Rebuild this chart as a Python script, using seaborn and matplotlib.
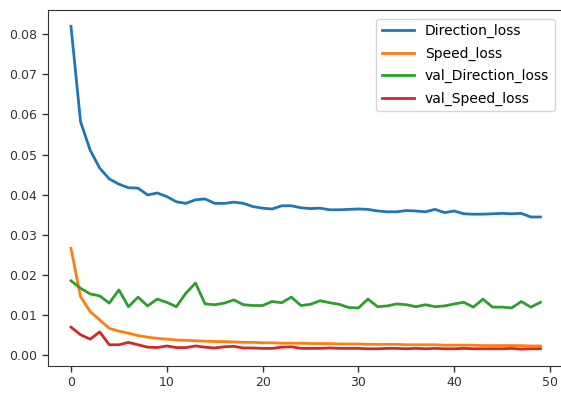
import numpy as np
import pandas as pd
import matplotlib
matplotlib.use("Agg")
import matplotlib.pyplot as plt
import seaborn as sns

epochs = list(range(50))

direction_loss = [0.0820, 0.0582, 0.0511, 0.0466, 0.0439, 0.0426, 0.0417, 0.0416, 0.0399, 0.0404,
                  0.0395, 0.0382, 0.0378, 0.0387, 0.0389, 0.0378, 0.0378, 0.0381, 0.0378, 0.0370,
                  0.0366, 0.0364, 0.0372, 0.0372, 0.0367, 0.0365, 0.0366, 0.0362, 0.0362, 0.0363,
                  0.0364, 0.0363, 0.0359, 0.0357, 0.0357, 0.0360, 0.0359, 0.0357, 0.0363, 0.0355,
                  0.0359, 0.0352, 0.0351, 0.0351, 0.0352, 0.0353, 0.0352, 0.0353, 0.0344, 0.0344]

speed_loss = [0.0266, 0.0145, 0.0108, 0.0087, 0.0066, 0.0059, 0.0054, 0.0048, 0.0044, 0.0041,
              0.0039, 0.0037, 0.0036, 0.0035, 0.0034, 0.0033, 0.0033, 0.0032, 0.0031, 0.0031,
              0.0030, 0.0030, 0.0029, 0.0029, 0.0029, 0.0028, 0.0028, 0.0028, 0.0027, 0.0027,
              0.0027, 0.0026, 0.0026, 0.0026, 0.0026, 0.0025, 0.0025, 0.0025, 0.0025, 0.0024,
              0.0024, 0.0024, 0.0024, 0.0023, 0.0023, 0.0023, 0.0023, 0.0023, 0.0022, 0.0022]

val_direction_loss = [0.0185, 0.0166, 0.0152, 0.0147, 0.0129, 0.0162, 0.0120, 0.0144, 0.0122, 0.0139,
                      0.0131, 0.0120, 0.0154, 0.0179, 0.0127, 0.0125, 0.0129, 0.0137, 0.0125, 0.0123,
                      0.0123, 0.0133, 0.0130, 0.0144, 0.0123, 0.0126, 0.0135, 0.0130, 0.0126, 0.0118,
                      0.0117, 0.0139, 0.0120, 0.0122, 0.0127, 0.0125, 0.0120, 0.0125, 0.0120, 0.0122,
                      0.0127, 0.0131, 0.0119, 0.0139, 0.0119, 0.0119, 0.0117, 0.0133, 0.0119, 0.0131]

val_speed_loss = [0.0069, 0.0050, 0.0039, 0.0057, 0.0025, 0.0025, 0.0031, 0.0025, 0.0019, 0.0018,
                  0.0022, 0.0018, 0.0018, 0.0022, 0.0019, 0.0017, 0.0020, 0.0021, 0.0017, 0.0017,
                  0.0016, 0.0016, 0.0019, 0.0020, 0.0016, 0.0016, 0.0016, 0.0017, 0.0016, 0.0016,
                  0.0016, 0.0015, 0.0015, 0.0016, 0.0016, 0.0015, 0.0016, 0.0015, 0.0016, 0.0015,
                  0.0015, 0.0016, 0.0015, 0.0015, 0.0015, 0.0015, 0.0016, 0.0014, 0.0015, 0.0015]

series_names = ["Direction_loss", "Speed_loss", "val_Direction_loss", "val_Speed_loss"]
colors = ["#1f77b4", "#ff7f0e", "#2ca02c", "#d62728"]
x_ticks = [0, 10, 20, 30, 40, 50]
y_ticks = [0.00, 0.01, 0.02, 0.03, 0.04, 0.05, 0.06, 0.07, 0.08]
y_tick_labels = ["0.00", "0.01", "0.02", "0.03", "0.04", "0.05", "0.06", "0.07", "0.08"]

df = pd.DataFrame({
    "epoch": epochs * 4,
    "loss": direction_loss + speed_loss + val_direction_loss + val_speed_loss,
    "series": sum([[n] * len(epochs) for n in series_names], []),
})

plt.rcParams['font.family'] = ['DejaVu Sans']
fig = plt.figure(figsize=(5.61, 3.93), dpi=100)
ax = fig.add_axes([47.5 / 561, 27 / 393, 516.4 / 561, 356.5 / 393])

sns.lineplot(data=df, x="epoch", y="loss", hue="series", hue_order=series_names,
             palette=colors, linewidth=2.0, ax=ax)

ax.set_xlim(-2.45, 51.45)
ax.set_ylim(-0.0028, 0.0862)
ax.set_xticks(x_ticks)
ax.set_yticks(y_ticks)
ax.set_yticklabels(y_tick_labels)
ax.set_xlabel("")
ax.set_ylabel("")
ax.tick_params(labelsize=9, length=4, width=1, colors="#333333")
for s in ax.spines.values():
    s.set_color("#333333")
ax.spines["right"].set_visible(False)

leg = ax.legend(loc="upper right", fontsize=10, frameon=True, handlelength=2.3,
                labelspacing=0.6, borderaxespad=0.65)
leg.get_frame().set_edgecolor("#cccccc")

fig.savefig("out.png", dpi=100)
